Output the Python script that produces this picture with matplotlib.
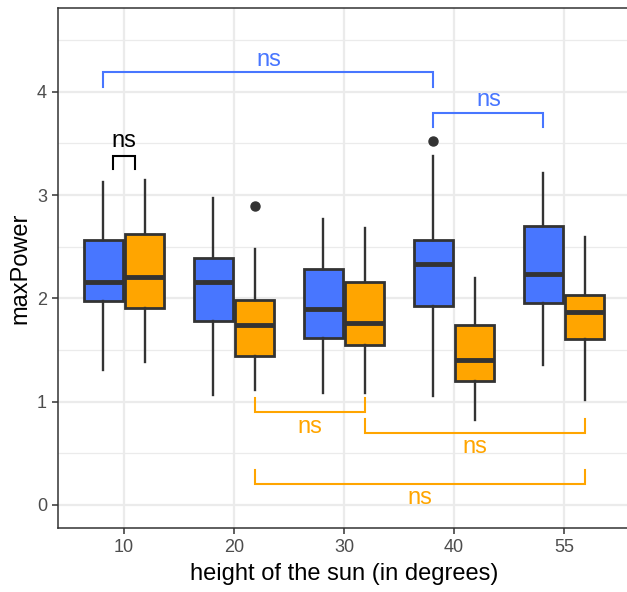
import matplotlib
matplotlib.use("Agg")
import matplotlib.pyplot as plt
import numpy as np

plt.rcParams['font.family'] = ['Liberation Sans', 'DejaVu Sans']

categories = ["10", "20", "30", "40", "55"]
# five-number summaries: whislo, q1, med, q3, whishi
blue_low = [1.31, 1.06, 1.08, 1.05, 1.35]
blue_q1 = [1.97, 1.78, 1.62, 1.93, 1.95]
blue_med = [2.16, 2.16, 1.90, 2.33, 2.24]
blue_q3 = [2.56, 2.39, 2.28, 2.56, 2.70]
blue_high = [3.13, 2.97, 2.77, 3.38, 3.21]
blue_out = [[], [], [], [3.52], []]

orange_low = [1.38, 1.11, 1.08, 0.82, 1.02]
orange_q1 = [1.91, 1.44, 1.55, 1.20, 1.61]
orange_med = [2.21, 1.74, 1.76, 1.40, 1.87]
orange_q3 = [2.62, 1.98, 2.16, 1.74, 2.03]
orange_high = [3.15, 2.48, 2.68, 2.20, 2.59]
orange_out = [[], [2.89], [], [], []]

# significance brackets: (group, start cat, end cat, bar y, tip y, text y, label)
brackets = [
    ("blue", 0, 3, 4.19, 4.05, 4.31, "ns"),
    ("blue", 3, 4, 3.79, 3.66, 3.92, "ns"),
    ("orange", 1, 2, 0.90, 1.04, 0.755, "ns"),
    ("orange", 2, 4, 0.70, 0.83, 0.56, "ns"),
    ("orange", 1, 4, 0.20, 0.34, 0.07, "ns"),
]
pair_bracket = (0, 3.38, 3.25, 3.52, "ns")

BLUE = "#4876FF"
ORANGE = "#FFA500"
EDGE = "#333333"

W, H = 627, 592
fig = plt.figure(figsize=(W / 100, H / 100), dpi=100)
ax = fig.add_axes([58 / W, (592 - 528) / H, (630 - 58) / W, (528 - 8) / H])

x = np.arange(len(categories)) + 1
off = 0.1875
bw = 0.35


def stats(lo, q1, me, q3, hi, out):
    return [dict(whislo=a, q1=b, med=c, q3=d, whishi=e, fliers=f)
            for a, b, c, d, e, f in zip(lo, q1, me, q3, hi, out)]


for st, pos, col in [
    (stats(blue_low, blue_q1, blue_med, blue_q3, blue_high, blue_out), x - off, BLUE),
    (stats(orange_low, orange_q1, orange_med, orange_q3, orange_high, orange_out), x + off, ORANGE),
]:
    ax.bxp(st, positions=pos, widths=bw, patch_artist=True, showcaps=False,
           boxprops=dict(facecolor=col, edgecolor=EDGE, linewidth=2.0),
           medianprops=dict(color=EDGE, linewidth=3.5),
           whiskerprops=dict(color=EDGE, linewidth=1.7),
           flierprops=dict(marker='o', markerfacecolor=EDGE, markeredgecolor=EDGE,
                           markersize=6.5),
           manage_ticks=False, zorder=3)

for grp, a, b, ybar, ytip, ytext, lab in brackets:
    col = BLUE if grp == "blue" else ORANGE
    o = -off if grp == "blue" else off
    xa, xb = x[a] + o, x[b] + o
    ax.plot([xa, xa, xb, xb], [ytip, ybar, ybar, ytip], color=col, lw=1.5, zorder=4,
            solid_joinstyle='miter')
    ax.text((xa + xb) / 2, ytext, lab, color=col, fontsize=17, ha='center', va='center')

c, ybar, ytip, ytext, lab = pair_bracket
xa, xb = x[c] - 0.104, x[c] + 0.104
ax.plot([xa, xa, xb, xb], [ytip, ybar, ybar, ytip], color='black', lw=1.5, zorder=4,
        solid_joinstyle='miter')
ax.text(x[c], ytext, lab, color='black', fontsize=17, ha='center', va='center')

ax.set_xlim(0.4, 5.6)
ax.set_ylim(-0.223, 4.81)
ax.set_xticks(x)
ax.set_xticklabels(categories)
ax.set_yticks([0, 1, 2, 3, 4])
ax.set_yticks([0.5, 1.5, 2.5, 3.5, 4.5], minor=True)
ax.grid(True, which='major', color='#EBEBEB', lw=1.6, zorder=0)
ax.grid(True, which='minor', axis='y', color='#EBEBEB', lw=0.9, zorder=0)
ax.set_axisbelow(True)
ax.tick_params(axis='both', which='major', length=4, width=1.1, color='#333333',
               labelsize=13, labelcolor='#4D4D4D', pad=4)
ax.tick_params(axis='y', which='minor', length=0)
for s in ax.spines.values():
    s.set_color('#333333')
    s.set_linewidth(1.1)

ax.set_xlabel("height of the sun (in degrees)", fontsize=17, color='black', labelpad=5)
ax.set_ylabel("maxPower", fontsize=17, color='black', labelpad=4)

fig.savefig("out.png", dpi=100)
